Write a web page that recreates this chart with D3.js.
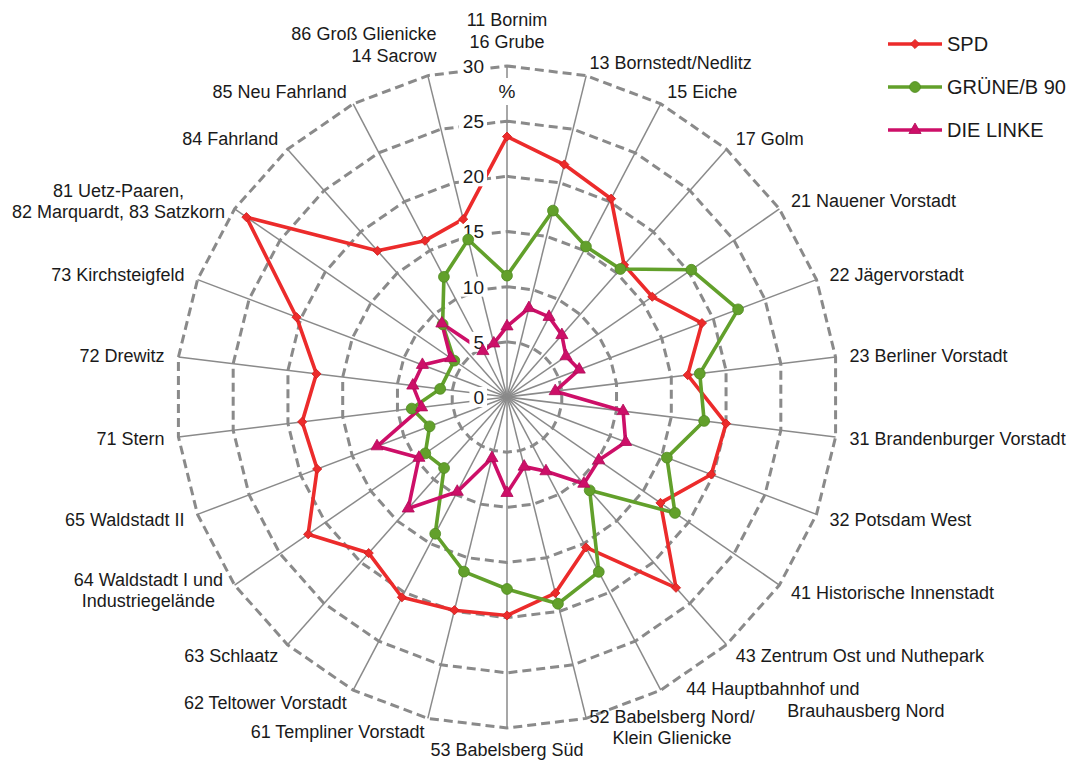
<!DOCTYPE html>
<html><head><meta charset="utf-8">
<script src="https://cdn.jsdelivr.net/npm/d3@7"></script>
<style>
body{margin:0;background:#fff}
svg{display:block}
text{font-family:"Liberation Sans",Arial,Helvetica,sans-serif;fill:#1a1a1a}
</style>
</head><body>
<svg id="chart" width="1077" height="760"></svg>
<script>
// ---------------- data ----------------
const categories = [
  "11 Bornim\n16 Grube", "13 Bornstedt/Nedlitz", "15 Eiche", "17 Golm",
  "21 Nauener Vorstadt", "22 Jägervorstadt", "23 Berliner Vorstadt",
  "31 Brandenburger Vorstadt", "32 Potsdam West", "41 Historische Innenstadt",
  "43 Zentrum Ost und Nuthepark", "44 Hauptbahnhof und\nBrauhausberg Nord",
  "52 Babelsberg Nord/\nKlein Glienicke", "53 Babelsberg Süd",
  "61 Templiner Vorstadt", "62 Teltower Vorstadt", "63 Schlaatz",
  "64 Waldstadt I und\nIndustriegelände", "65 Waldstadt II", "71 Stern",
  "72 Drewitz", "73 Kirchsteigfeld", "81 Uetz-Paaren,\n82 Marquardt, 83 Satzkorn",
  "84 Fahrland", "85 Neu Fahrland", "86 Groß Glienicke\n14 Sacrow"
];
const spd    = [23.6, 21.7, 20.3, 16.0, 16.0, 18.9, 16.5, 20.0, 19.8, 16.9, 23.1, 15.4, 18.3,
                19.8, 19.9, 20.5, 18.9, 21.9, 18.4, 18.7, 17.4, 20.4, 28.7, 17.7, 16.0, 16.6];
const gruene = [11.0, 17.4, 15.4, 15.5, 20.3, 22.4, 17.6, 18.0, 15.5, 18.5, 11.3, 17.9, 19.3,
                17.4, 16.3, 14.0, 8.6, 9.0, 7.5, 8.7, 6.1, null, 5.8, 8.8, 12.3, 14.7];
const linke  = [6.4, 8.3, 8.2, 7.5, 6.5, 7.0, 4.4, 10.6, 11.5, 10.1, 10.5, 7.6, 6.5,
                8.7, 5.7, 9.7, 13.5, 9.7, 12.6, 7.8, 8.6, 8.2, 6.2, 8.9, 4.7, 5.0];
const seriesNames = ["SPD", "GRÜNE/B 90", "DIE LINKE"];
const ticks = [0, 5, 10, 15, 20, 25, 30];
const unitLabel = "%";

// ---------------- layout / style ----------------
const cx = 507, cy = 397, R = 331;
const colors = ["#ec2b2b", "#62a02b", "#cd0f68"];
const strokeDark = ["#d01f1f", "#4f8a1f", "#b00a58"];
const series = [spd, gruene, linke];
const symbols = [d3.symbolSquare, d3.symbolCircle, d3.symbolTriangle];
const symSizes = [42, 92, 64];
const symRot = [45, 0, 0];

const svg = d3.select("#chart");
const angle = d3.scaleLinear().domain([0, categories.length]).range([0, 2 * Math.PI]);
const r = d3.scaleLinear().domain([0, d3.max(ticks)]).range([0, R]);
const idx = d3.range(categories.length);

const g = svg.append("g").attr("transform", `translate(${cx},${cy})`);

// dashed polygon rings
const ringLine = d3.lineRadial().angle(i => angle(i)).curve(d3.curveLinearClosed);
g.append("g").selectAll("path").data(ticks.filter(t => t > 0)).join("path")
  .attr("d", t => ringLine.radius(() => r(t))(idx))
  .attr("fill", "none").attr("stroke", "#8a8a8a")
  .attr("stroke-width", 3).attr("stroke-dasharray", "9,5");

// spokes
g.append("g").selectAll("line").data(idx).join("line")
  .attr("x1", 0).attr("y1", 0)
  .attr("x2", i => r(d3.max(ticks)) * Math.sin(angle(i)))
  .attr("y2", i => -r(d3.max(ticks)) * Math.cos(angle(i)))
  .attr("stroke", "#8a8a8a").attr("stroke-width", 1.5);

// series lines
const seriesPts = series.map(vals => vals.map((v, i) => ({ i, v })).filter(d => d.v != null));
seriesPts.forEach((pts, s) => {
  const line = d3.lineRadial().angle(d => angle(d.i)).radius(d => r(d.v)).curve(d3.curveLinearClosed);
  g.append("path").attr("d", line(pts))
    .attr("fill", "none").attr("stroke", colors[s])
    .attr("stroke-width", 3.6).attr("stroke-linejoin", "round");
});

// tick labels with white background (over lines, under markers)
const tg = svg.append("g");
ticks.forEach(t => {
  const y = cy - r(t);
  const txt = tg.append("text").attr("x", cx - 23).attr("y", y).attr("dy", "0.36em")
    .attr("text-anchor", "end").attr("font-size", 19).text(t);
  const bb = txt.node().getBBox();
  tg.insert("rect", "text").attr("x", bb.x - 4).attr("y", y - 10).attr("width", bb.width + 7).attr("height", 20).attr("fill", "#fff");
});
tg.append("rect").attr("x", cx - 10).attr("y", 78).attr("width", 20).attr("height", 27).attr("fill", "#fff");
tg.append("text").attr("x", cx).attr("y", 91.5).attr("dy", "0.36em").attr("text-anchor", "middle")
  .attr("font-size", 19).text(unitLabel);

// series markers
const mg = svg.append("g").attr("transform", `translate(${cx},${cy})`);
seriesPts.forEach((pts, s) => {
  mg.append("g").selectAll("path").data(pts).join("path")
    .attr("d", d3.symbol().type(symbols[s]).size(symSizes[s]))
    .attr("transform", d => `translate(${r(d.v) * Math.sin(angle(d.i))},${-r(d.v) * Math.cos(angle(d.i))}) rotate(${symRot[s]})`)
    .attr("fill", colors[s]).attr("stroke", strokeDark[s]).attr("stroke-width", 0.8);
});

// category labels
const overrides = {
  11: { align: "start", lineDx: [19, 120], dy: -3 },
  12: { dy: -5 },
  17: { dy: -3 },
  22: { dx: 2 },
  25: { align: "end", dx: 12, dy: -17.5 }
};
const lh = 21.5;
const lg = svg.append("g");
categories.forEach((c, i) => {
  const a = angle(i), s = Math.sin(a), co = Math.cos(a);
  const px = cx + (R + 14) * s, py = cy - (R + 14) * co;
  const lines = c.split("\n"), n = lines.length;
  const ov = overrides[i] || {};
  const texts = lines.map(ln => lg.append("text").attr("font-size", 18).text(ln));
  const maxW = d3.max(texts, t => t.node().getComputedTextLength());
  let yFirst;
  if (Math.abs(s) < 0.05) {
    yFirst = co > 0 ? py - (n - 1) * lh - lh / 2 : py + 8;
  } else {
    yFirst = py - (n - 1) * lh / 2;
  }
  yFirst += ov.dy || 0;
  const bx = px + (ov.dx || 0);
  texts.forEach((t, k) => {
    let anchor, x;
    if (ov.align === "start") { anchor = "start"; x = bx + (ov.lineDx ? ov.lineDx[k] : 0); }
    else if (ov.align === "end") { anchor = "end"; x = bx; }
    else if (Math.abs(s) < 0.05) { anchor = "middle"; x = bx; }
    else if (n === 1) { anchor = s > 0 ? "start" : "end"; x = bx; }
    else { anchor = "middle"; x = s > 0 ? bx + maxW / 2 : bx - maxW / 2; }
    t.attr("x", x).attr("y", yFirst + k * lh).attr("dy", "0.36em").attr("text-anchor", anchor);
  });
});

// legend
const leg = svg.append("g");
seriesNames.forEach((name, s) => {
  const y = 44 + s * 43;
  leg.append("line").attr("x1", 888).attr("x2", 942).attr("y1", y).attr("y2", y)
    .attr("stroke", colors[s]).attr("stroke-width", 3.6);
  leg.append("path").attr("d", d3.symbol().type(symbols[s]).size(symSizes[s])())
    .attr("transform", `translate(915,${y}) rotate(${symRot[s]})`)
    .attr("fill", colors[s]).attr("stroke", strokeDark[s]).attr("stroke-width", 0.8);
  leg.append("text").attr("x", 947).attr("y", y).attr("dy", "0.36em")
    .attr("font-size", 20).text(name);
});
</script>
</body></html>
